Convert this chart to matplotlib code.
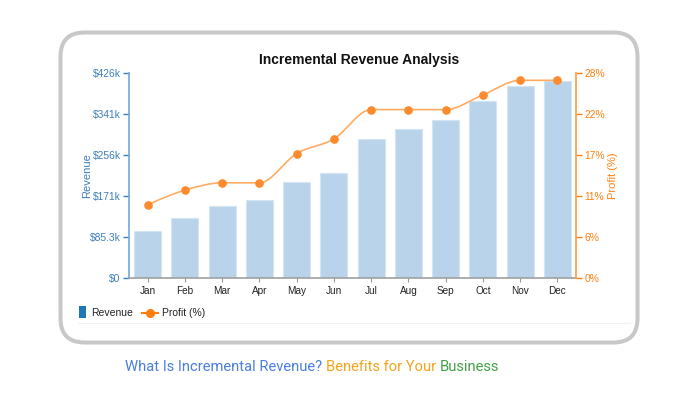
import numpy as np
import matplotlib
matplotlib.use("Agg")
import matplotlib.pyplot as plt
from matplotlib.patches import FancyBboxPatch, Rectangle
from matplotlib.path import Path
from matplotlib.patches import PathPatch
from matplotlib.lines import Line2D
from matplotlib.transforms import IdentityTransform

plt.rcParams['font.family'] = ['Liberation Sans', 'DejaVu Sans']

# data
months = ["Jan", "Feb", "Mar", "Apr", "May", "Jun",
          "Jul", "Aug", "Sep", "Oct", "Nov", "Dec"]
revenue_k = [98, 124, 149, 163, 199, 219, 289, 309, 328, 368, 399, 409]
profit_pct = [10, 12, 13, 13, 17, 19, 23, 23, 23, 25, 27, 27]
rev_ticks = [0, 85.2, 170.4, 255.6, 340.8, 426]
rev_tick_labels = ["$0", "$85.3k", "$171k", "$256k", "$341k", "$426k"]
pct_ticks = [0, 5.6, 11.2, 16.8, 22.4, 28]
pct_tick_labels = ["0%", "6%", "11%", "17%", "22%", "28%"]

W, H = 698, 400
BLUE = "#3d7ebf"
ORANGE = "#ff7f0e"


def px(x, y):
    # pixel (from top-left) -> figure fraction
    return x / W, 1 - y / H


def monotone_path(xs, ys):
    # d3 curveMonotoneX as bezier segments
    xs = np.asarray(xs, float)
    ys = np.asarray(ys, float)
    n = len(xs)
    h = np.diff(xs)
    s = np.diff(ys) / h
    t = np.zeros(n)
    for i in range(1, n - 1):
        p = (s[i - 1] * h[i] + s[i] * h[i - 1]) / (h[i - 1] + h[i])
        t[i] = (np.sign(s[i - 1]) + np.sign(s[i])) * min(abs(s[i - 1]), abs(s[i]), 0.5 * abs(p))
    t[0] = (3 * s[0] - t[1]) / 2
    t[-1] = (3 * s[-1] - t[-2]) / 2
    verts = [(xs[0], ys[0])]
    codes = [Path.MOVETO]
    for i in range(n - 1):
        dx = (xs[i + 1] - xs[i]) / 3
        verts += [(xs[i] + dx, ys[i] + dx * t[i]),
                  (xs[i + 1] - dx, ys[i + 1] - dx * t[i + 1]),
                  (xs[i + 1], ys[i + 1])]
        codes += [Path.CURVE4] * 3
    return Path(verts, codes)


fig = plt.figure(figsize=(W / 100, H / 100), dpi=100)

# rounded frame
frame = FancyBboxPatch((60.5, H - 342.5), 577, 310,
                       boxstyle="round,pad=0,rounding_size=24",
                       transform=IdentityTransform(), facecolor="white",
                       edgecolor="#c8c8c8", linewidth=2.9, zorder=-10)
fig.patches.append(frame)

l, b = px(129, 278)
r, t = px(576, 73)
ax = fig.add_axes([l, b, r - l, t - b])
ax.set_facecolor("none")
x = np.arange(len(months))
ax.bar(x, revenue_k, width=0.72, color="#b9d4ea", edgecolor="#d3e4f2", linewidth=0.8, zorder=2)
ax.set_xlim(-0.5, len(months) - 0.5)
ax.set_ylim(0, 426)
ax.set_yticks(rev_ticks)
ax.set_yticklabels(rev_tick_labels)
ax.set_xticks(x)
ax.set_xticklabels(months)
ax.tick_params(axis="y", colors=BLUE, labelsize=7.4, length=4, width=1, pad=2)
ax.tick_params(axis="x", colors="#999999", labelcolor="#222222", labelsize=7.2, length=3, width=0.8, pad=3)
for sp in ["top", "right"]:
    ax.spines[sp].set_visible(False)
ax.spines["left"].set_color("#6fa8dc")
ax.spines["left"].set_linewidth(1.2)
ax.spines["bottom"].set_color("#a0a0a0")
ax.spines["bottom"].set_linewidth(1.2)
ax.set_ylabel("Revenue", color=BLUE, fontsize=8)
ax.yaxis.set_label_coords((92 - 129) / 447, 0.5)

ax2 = ax.twinx()
ax2.set_ylim(0, 28)
ax2.set_yticks(pct_ticks)
ax2.set_yticklabels(pct_tick_labels)
ax2.tick_params(axis="y", colors=ORANGE, labelsize=7.4, length=4, width=1, pad=2)
for sp in ["top", "left", "bottom"]:
    ax2.spines[sp].set_visible(False)
ax2.spines["right"].set_color("#ff9a3c")
ax2.spines["right"].set_linewidth(1.2)
ax2.set_ylabel("Profit (%)", color=ORANGE, fontsize=8)
ax2.yaxis.set_label_coords((608 - 129) / 447, 0.5)
ax2.add_patch(PathPatch(monotone_path(x, profit_pct), facecolor="none",
                        edgecolor="#ffac62", linewidth=1.2, zorder=3))
ax2.plot(x, profit_pct, "o", color="#fd8a2c", markersize=5.2, zorder=4)

fig.text(*px(359, 60), "Incremental Revenue Analysis", ha="center", va="center",
         fontsize=10, fontweight="bold", color="#111111")

# legend
lx, ly = px(79, 318)
fig.patches.append(Rectangle((lx, ly), 7 / W, 12 / H, transform=fig.transFigure,
                             facecolor="#1f77b4", edgecolor="none"))
fig.text(*px(91, 313), "Revenue", ha="left", va="center", fontsize=7.5, color="#222222")
x0, y0 = px(142, 313)
x1, _ = px(158, 313)
fig.lines.append(Line2D([x0, x1], [y0, y0], transform=fig.transFigure, color=ORANGE, linewidth=1.5))
fig.lines.append(Line2D([(x0 + x1) / 2], [y0], transform=fig.transFigure, marker="o",
                        color=ORANGE, markersize=5.5))
fig.text(*px(162, 313), "Profit (%)", ha="left", va="center", fontsize=7.5, color="#222222")
s0, sy = px(78, 323)
s1, _ = px(630, 323)
fig.lines.append(Line2D([s0, s1], [sy, sy], transform=fig.transFigure, color="#f0f0f0", linewidth=0.8))

# caption with coloured parts
parts = [("What Is Incremental Revenue? ", "#4a7fe0"),
         ("Benefits for Your ", "#f5a31a"),
         ("Business", "#43a047")]
renderer = fig.canvas.get_renderer()
cx = 125
for txt, col in parts:
    tt = fig.text(*px(cx, 367), txt, ha="left", va="center", fontsize=10.6,
                  color=col, family=["Roboto", "DejaVu Sans"])
    bb = tt.get_window_extent(renderer=renderer)
    cx += bb.width

fig.savefig("out.png", dpi=100)
